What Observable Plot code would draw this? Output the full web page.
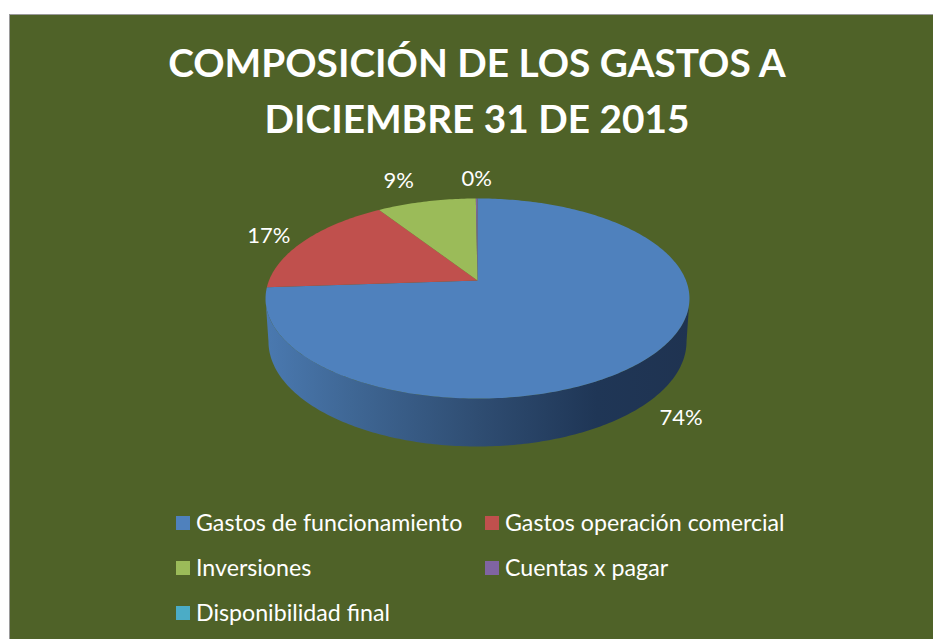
<!DOCTYPE html>
<html>
<head>
<meta charset="utf-8">
<script src="https://cdn.jsdelivr.net/npm/d3@7"></script>
<script src="https://cdn.jsdelivr.net/npm/@observablehq/plot@0.6"></script>
<style>
html,body{margin:0;padding:0;background:#fff;width:933px;height:639px;overflow:hidden}
#card{position:absolute;left:9px;top:14px;width:924px;height:625px;box-sizing:border-box;background:#4F6228;
  border-left:1.5px solid #9a9a9a;border-top:1.5px solid #9a9a9a;font-family:Lato,sans-serif;color:#fff}
#title{position:absolute;left:0;width:934px;top:19px;text-align:center;font-weight:700;font-size:38.8px;line-height:56px}
#plot{position:absolute;left:-1.5px;top:154.5px}
#plot svg{display:block}
#legend{position:absolute;left:0;top:0}
.it{position:absolute;font-size:23.2px;line-height:24px;white-space:nowrap}
.sw{position:absolute;width:14px;height:14px}
</style>
</head>
<body>
<div id="card">
  <div id="title">COMPOSICIÓN DE LOS GASTOS A<br>DICIEMBRE 31 DE 2015</div>
  <div id="plot"></div>
  <div id="legend"></div>
</div>
<script>
const categories = ["Gastos de funcionamiento","Gastos operación comercial","Inversiones","Cuentas x pagar","Disponibilidad final"];
const values = [74, 17, 9, 0.15, 0];
const colors = ["#4F81BD","#C0504D","#9BBB59","#8064A2","#4BACC6"];
const labelNudge = [[0.14,-0.62],[-0.17,0.04],[-0.13,0.20],[0,0.20],[0,0]];
const sideStops = [[0,"#4a79b0"],[0.2,"#3f6795"],[0.5,"#2f4d72"],[0.78,"#1f3656"],[1,"#1f3351"]];

const W = 924, H = 310, apexX = 468, apexY = 110, ux = 212, uy = 100;
const k = 0.18, a = 0.9835, b = 0.968;
// pie plane to screen, with the chart's perspective tilt
const project = (t, r) => {
  const w = 1 + k * r * Math.cos(t);
  return {x: a * r * Math.sin(t) / w, y: b * r * Math.cos(t) / w};
};
const total = d3.sum(values);
let acc = 0;
const slicePts = [], labels = [];
categories.forEach((name, i) => {
  const t0 = acc / total * 2 * Math.PI;
  acc += values[i];
  const t1 = acc / total * 2 * Math.PI;
  if (values[i] <= 0) return;
  slicePts.push({name, x: 0, y: 0});
  const n = Math.max(2, Math.ceil((t1 - t0) * 60));
  for (let j = 0; j <= n; j++) slicePts.push({name, ...project(t0 + (t1 - t0) * j / n, 1)});
  const m = project((t0 + t1) / 2, 1);
  labels.push({x: m.x + labelNudge[i][0], y: m.y + labelNudge[i][1], text: Math.round(values[i] / total * 100) + "%"});
});
// side wall: front half of the top rim, back along the bottom rim
const side = [];
for (let j = 0; j <= 180; j++) { const t = Math.PI + Math.PI * j / 180; side.push({x: Math.cos(t), y: -0.18 + Math.sin(t)}); }
for (let j = 180; j >= 0; j--) { const t = Math.PI + Math.PI * j / 180; side.push({x: 0.986 * Math.cos(t), y: -0.61 + 1.05 * Math.sin(t)}); }

const defs = () => {
  const d = d3.create("svg:defs");
  const g = d.append("linearGradient").attr("id", "sideGrad");
  sideStops.forEach(([o, c]) => g.append("stop").attr("offset", o).attr("stop-color", c));
  return d.node();
};

const chart = Plot.plot({
  width: W, height: H, margin: 0,
  style: {background: "transparent", overflow: "visible"},
  x: {axis: null, domain: [-apexX / ux, (W - apexX) / ux], range: [0, W]},
  y: {axis: null, domain: [(apexY - H) / uy, apexY / uy], range: [H, 0]},
  color: {domain: categories, range: colors},
  marks: [
    defs,
    Plot.line(side, {x: "x", y: "y", fill: "url(#sideGrad)", stroke: "none"}),
    Plot.line(slicePts, {x: "x", y: "y", z: "name", fill: "name", stroke: "none"}),
    Plot.text(labels, {x: "x", y: "y", text: "text", fill: "#fff", fontSize: 22, fontFamily: "Lato, sans-serif"})
  ]
});
document.getElementById("plot").appendChild(chart);

const lx = [166, 475], ly = [495, 540, 585];
const legend = document.getElementById("legend");
categories.forEach((name, i) => {
  const col = i % 2, row = Math.floor(i / 2);
  const s = document.createElement("div");
  s.className = "sw"; s.style.left = lx[col] + "px"; s.style.top = (ly[row] + 6) + "px"; s.style.background = colors[i];
  const t = document.createElement("div");
  t.className = "it"; t.style.left = (lx[col] + 20) + "px"; t.style.top = ly[row] + "px"; t.textContent = name;
  legend.append(s, t);
});
</script>
</body>
</html>
